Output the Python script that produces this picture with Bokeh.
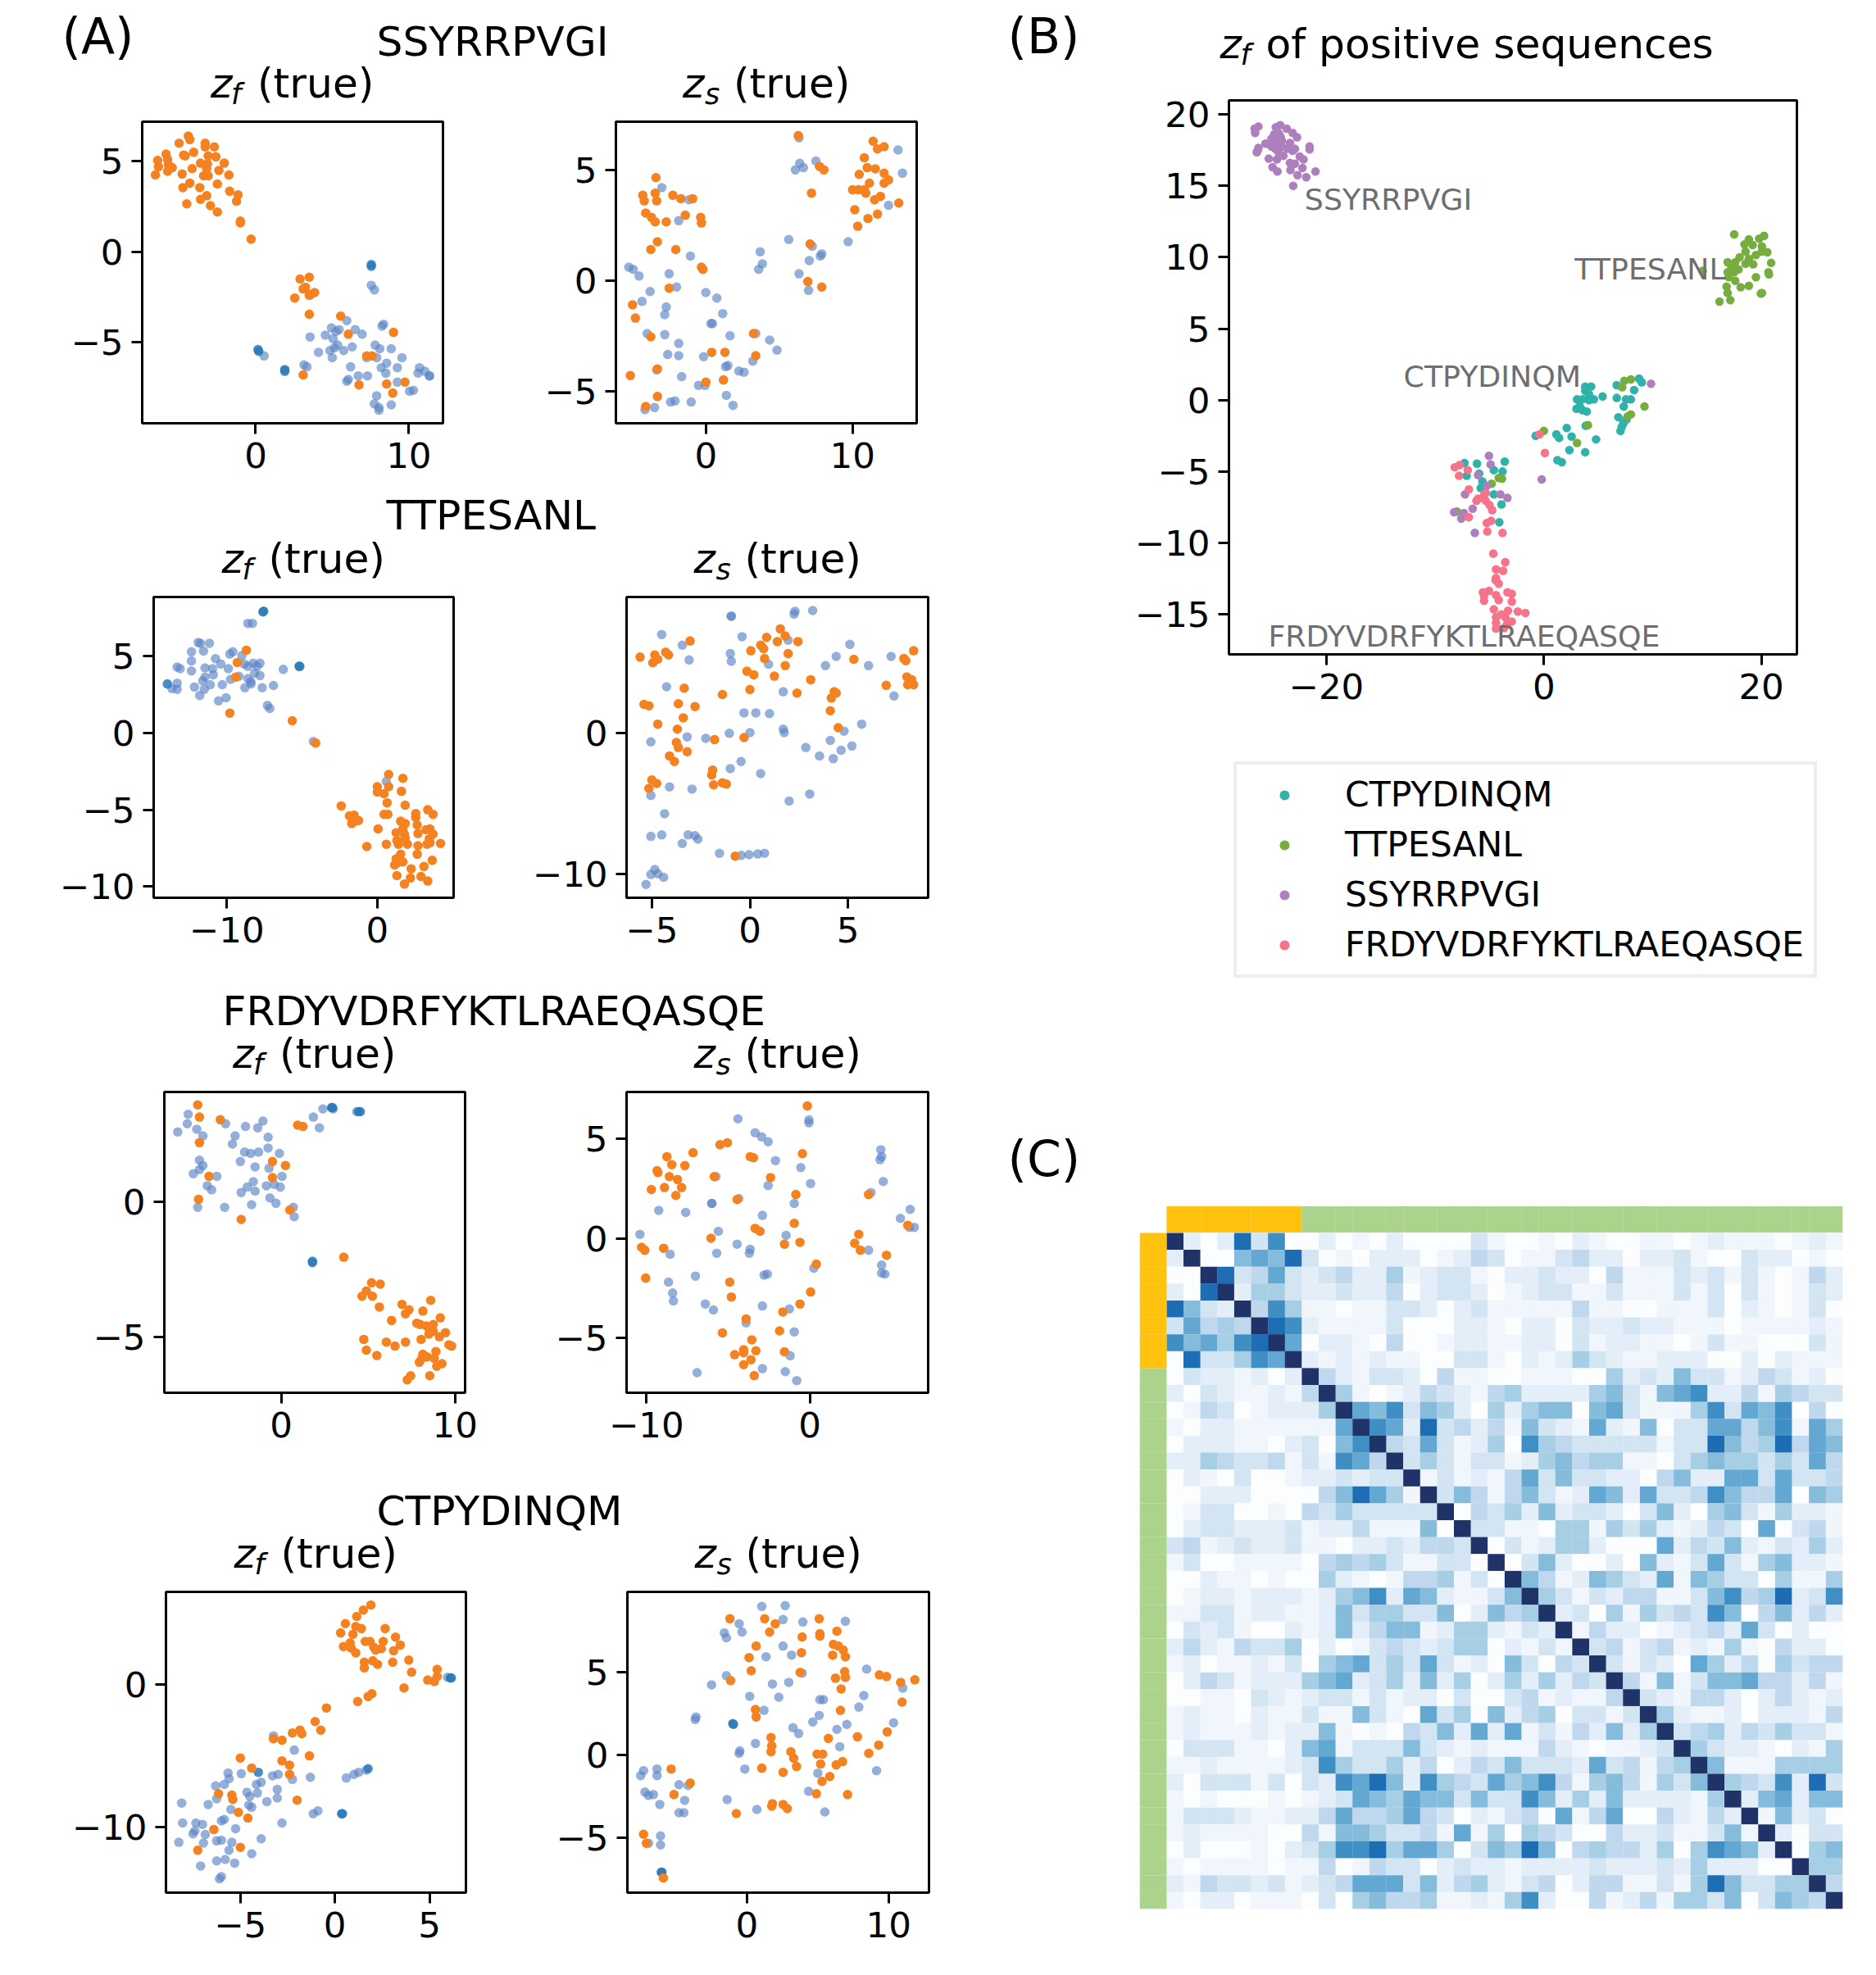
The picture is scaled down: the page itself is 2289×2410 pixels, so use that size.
from bokeh.plotting import figure
from bokeh.layouts import column, row
from bokeh.models import Legend, LegendItem, Range1d, LinearColorMapper, ColumnDataSource
from bokeh.core.properties import value
from bokeh.embed import file_html
from bokeh.resources import INLINE

SEQS = ["SSYRRPVGI", "TTPESANL", "FRDYVDRFYKTLRAEQASQE", "CTPYDINQM"]

A1F_ORANGE = [(-4.4,6.4),(-4.3,6.2),(-5.0,6.0),(-3.3,6.0),(-3.3,5.8),(-2.7,5.8),(-4.05,5.5),(-5.85,5.4),(-4.7,5.35),(-4.6,5.3),(-3.1,5.3),(-2.6,5.25),(-6.4,5.05),(-5.75,5.1),(-3.6,4.9),(-2.05,4.9),(-3.15,4.85),(-6.35,4.7),(-5.7,4.8),(-5.45,4.65),(-4.15,4.6),(-3.2,4.6),(-2.4,4.5),(-5.75,4.45),(-6.55,4.25),(-4.8,4.3),(-1.75,4.25),(-3.4,4.2),(-3.1,4.2),(-2.5,3.75),(-4.3,3.8),(-4.75,3.55),(-3.65,3.55),(-1.7,3.35),(-1.15,3.15),(-3.2,3.1),(-3.6,2.9),(-1.25,2.8),(-4.5,2.65),(-2.95,2.55),(-2.5,2.2),(-1.0,1.7),(-1.0,1.6),(-0.3,0.7),(3.5,-1.4),(2.9,-1.5),(3.25,-1.95),(3.1,-2.05),(3.85,-2.25),(3.6,-2.35),(3.5,-2.4),(2.55,-2.55),(3.5,-3.45),(5.55,-3.55),(6.05,-4.55),(9.0,-4.45),(7.25,-5.75),(7.6,-5.75),(3.1,-6.8),(8.55,-7.3),(6.75,-7.35),(9.75,-7.2),(8.95,-7.8)]
A1F_BLUE = [(7.55,-1.85),(7.75,-2.1),(5.95,-3.8),(4.95,-4.2),(5.45,-4.3),(5.25,-4.4),(6.5,-4.3),(4.55,-4.6),(5.05,-4.8),(6.95,-4.55),(3.55,-4.7),(8.35,-4.0),(8.25,-4.1),(5.35,-5.15),(5.15,-5.3),(6.3,-5.25),(7.8,-5.15),(8.1,-5.35),(8.85,-5.35),(4.85,-5.45),(5.75,-5.45),(4.1,-5.55),(5.0,-5.85),(7.9,-5.85),(7.25,-5.85),(9.55,-5.85),(8.55,-6.15),(6.2,-6.35),(8.2,-6.4),(9.25,-6.4),(8.5,-6.7),(10.7,-6.4),(10.6,-6.7),(11.05,-6.6),(11.35,-6.85),(11.35,-6.85),(6.7,-6.85),(7.3,-6.85),(6.05,-7.05),(5.95,-7.15),(9.25,-7.2),(10.05,-7.7),(10.3,-7.65),(7.9,-7.95),(7.75,-8.4),(8.85,-8.45),(8.05,-8.6),(8.05,-8.75),(0.55,-5.75),(3.15,-6.25),(3.35,-6.35)]
A1F_DENSE = [(7.55,-0.7),(7.55,-0.8),(0.15,-5.4),(0.2,-5.5),(1.9,-6.5),(1.9,-6.6)]

A1S_ORANGE = [(6.3,6.55),(11.4,6.3),(11.7,5.95),(12.15,6.05),(10.8,5.55),(7.75,5.15),(8.05,5.0),(11.0,5.1),(11.55,5.05),(12.15,4.85),(10.45,4.8),(12.45,4.55),(12.15,4.4),(11.15,4.4),(-3.4,4.65),(7.2,3.95),(10.0,4.1),(10.4,4.1),(10.8,4.1),(10.9,3.95),(-4.3,3.85),(-3.45,3.95),(-4.2,3.6),(-3.35,3.6),(-2.25,3.85),(-1.7,3.7),(-0.9,3.7),(11.9,3.8),(11.5,3.65),(13.15,3.5),(10.15,3.2),(-4.1,3.05),(-3.7,2.85),(-3.45,2.65),(-2.7,2.65),(-1.4,2.95),(-0.35,2.85),(-0.3,2.6),(11.05,2.8),(11.7,3.0),(10.35,2.45),(-3.3,1.75),(-3.75,1.4),(-2.05,1.4),(7.1,1.65),(-0.3,0.6),(-0.2,0.5),(6.95,-0.05),(7.9,-0.3),(-2.5,-0.35),(-5.0,-1.1),(-4.8,-1.7),(-3.75,-2.55),(3.25,-2.4),(0.4,-3.25),(1.3,-3.25),(3.4,-3.4),(-3.3,-4.0),(-5.15,-4.3),(0,-4.6),(1.2,-4.5),(-3.3,-5.25),(-4.1,-5.7)]
A1S_BLUE = [(6.35,6.45),(13.1,5.9),(7.5,5.4),(6.4,5.3),(6.1,5.0),(6.65,5.1),(13.4,4.85),(-3.0,4.2),(-1.15,3.65),(12.45,3.4),(-1.85,2.7),(5.65,1.85),(9.7,1.75),(7.25,1.55),(3.7,1.3),(-1.05,1.1),(7.9,1.2),(7.8,1.1),(7.05,0.9),(3.85,0.75),(3.6,0.5),(-5.25,0.6),(-4.95,0.5),(-4.55,0.2),(-2.5,0.3),(6.35,0.3),(-2.0,-0.3),(-3.8,-0.5),(0,-0.55),(0.75,-0.8),(7.0,-0.45),(-4.35,-0.95),(-2.7,-1.2),(-2.8,-1.55),(1.15,-1.5),(0.35,-1.95),(0.45,-1.95),(-4.0,-2.4),(-2.8,-2.45),(3.4,-2.4),(1.65,-2.5),(4.35,-2.7),(-1.85,-2.85),(4.85,-3.15),(-2.6,-3.35),(-1.85,-3.4),(-0.15,-3.45),(3.2,-3.65),(1.5,-3.85),(1.35,-3.9),(-3.35,-4.05),(2.25,-4.1),(2.6,-4.15),(-1.65,-4.35),(-0.5,-4.75),(-0.05,-4.75),(1.4,-5.2),(-2.4,-5.5),(-2.1,-5.45),(-1.0,-5.5),(1.85,-5.65),(-3.5,-5.75),(-4.15,-5.85)]
A1S_DENSE = []

A2F_ORANGE = [(-8.7,5.4),(-9.3,4.6),(-9.4,3.65),(-9.8,1.3),(-5.65,0.8),(-4.1,-0.65),(0.75,-2.7),(1.7,-2.95),(1.6,-3.8),(0,-3.5),(0.75,-3.5),(0,-3.85),(0.45,-3.95),(0.65,-4.55),(1.85,-4.7),(-2.4,-4.75),(3.35,-5.0),(3.7,-5.3),(2.55,-5.25),(0.45,-5.3),(0.7,-5.3),(2.55,-5.5),(-1.85,-5.4),(-1.55,-5.35),(-1.25,-5.7),(-1.5,-5.75),(-1.7,-5.9),(1.55,-5.75),(1.85,-5.9),(2.65,-6.0),(0.05,-6.25),(1.7,-6.25),(3.5,-6.25),(3.25,-6.3),(1.25,-6.5),(2.7,-6.55),(3.7,-6.6),(1.8,-6.6),(1.85,-6.85),(1.3,-7.0),(3.45,-6.9),(0.6,-7.25),(-0.7,-7.4),(1.4,-7.25),(2.0,-7.25),(2.7,-7.35),(3.3,-7.25),(3.5,-7.15),(4.2,-7.2),(2.65,-7.9),(1.55,-7.9),(1.25,-8.2),(3.65,-8.3),(1.7,-8.4),(1.35,-8.45),(1.15,-8.6),(3.1,-8.7),(2.25,-8.85),(1.3,-9.3),(2.2,-9.45),(2.9,-9.35),(3.35,-9.65),(1.8,-9.85)]
A2F_BLUE = [(-8.6,7.15),(-8.3,7.15),(-11.9,5.9),(-11.75,5.85),(-11.15,5.85),(-12.35,5.3),(-11.55,5.35),(-9.8,5.15),(-9.6,5.3),(-9.0,5.05),(-10.75,4.85),(-12.35,4.7),(-10.4,4.5),(-8.85,4.5),(-8.25,4.55),(-7.8,4.55),(-8.0,4.35),(-8.6,4.35),(-13.3,4.3),(-13.1,4.2),(-11.45,4.25),(-10.95,4.2),(-9.9,4.2),(-6.25,4.15),(-12.35,4.05),(-10.9,3.8),(-8.15,3.9),(-7.8,3.75),(-11.45,3.65),(-9.2,3.7),(-9.75,3.5),(-8.6,3.55),(-11.6,3.4),(-8.4,3.35),(-8.4,3.2),(-13.3,3.25),(-11.1,3.15),(-10.3,3.15),(-6.9,3.1),(-12.15,3.0),(-8.8,2.95),(-7.65,2.95),(-13.65,2.9),(-13.3,2.85),(-11.5,2.85),(-11.8,2.45),(-10.05,2.3),(-10.55,2.1),(-7.3,1.8),(-7.15,1.6),(-4.25,-0.55),(0.6,-3.15)]
A2F_DENSE = [(-7.55,7.95),(-7.6,7.9),(-5.2,4.35),(-5.15,4.35),(-13.95,3.2)]

A2S_ORANGE = [(-5.6,5.35),(-4.85,5.5),(-4.7,5.2),(-4.95,4.95),(-4.3,5.7),(-4.15,5.5),(-3.05,6.5),(0.05,5.8),(0.55,6.2),(0.7,5.95),(0.85,6.75),(1.4,6.45),(1.55,7.35),(1.8,6.85),(2.45,6.45),(1.95,5.6),(0.75,5.25),(1.8,4.75),(-0.15,4.35),(0.2,4.1),(1.25,4.0),(3.1,3.75),(0,3.05),(-1.4,2.7),(2.4,2.8),(5.3,5.2),(7.85,5.25),(7.95,5.1),(8.35,5.8),(8.0,3.95),(8.25,3.75),(8.05,3.4),(8.35,3.4),(6.95,3.35),(4.3,2.9),(4.4,2.8),(4.15,2.45),(4.1,1.55),(4.5,0.35),(-3.35,3.15),(-3.65,2.05),(-2.8,1.85),(-5.4,2.0),(-5.15,1.9),(-3.4,1.05),(-4.7,0.6),(-3.7,0.25),(-3.75,-0.7),(-3.65,-1.05),(-3.2,-1.35),(-4.1,-1.65),(-3.85,-2.05),(-1.8,-0.5),(-0.3,-0.35),(-1.9,-2.65),(-1.95,-3.0),(-5.0,-3.35),(-4.75,-3.6),(-5.15,-3.95),(-1.85,-3.7),(-1.4,-3.55),(-1.2,-3.65),(-0.75,-8.75)]
A2S_BLUE = [(-0.95,8.25),(-0.95,8.25),(2.3,8.6),(2.25,8.4),(3.2,8.65),(-4.5,6.95),(-0.4,6.8),(-3.45,6.2),(1.95,6.55),(5.1,6.25),(-1.0,5.6),(-0.95,5.05),(-3.1,5.15),(4.4,5.4),(0.95,4.85),(3.85,4.75),(6.05,4.75),(7.2,5.4),(-4.25,3.25),(1.7,2.9),(7.35,2.6),(-0.3,1.4),(0.3,1.4),(1.0,1.35),(5.7,0.6),(1.7,0.25),(1.75,0),(-1.05,-0.05),(0,0),(4.8,0.1),(-3.2,-0.3),(-2.25,-0.4),(-5.05,-0.65),(4.1,-0.55),(2.85,-1.05),(5.2,-0.95),(4.65,-1.25),(3.55,-1.65),(4.25,-1.85),(-0.45,-2.05),(-1.0,-2.55),(0.55,-2.9),(-4.1,-3.85),(-2.95,-4.0),(3.05,-4.35),(-5.05,-4.45),(2.0,-4.85),(-4.35,-5.75),(-5.05,-7.35),(-4.5,-7.25),(-3.15,-7.25),(-2.8,-7.3),(-2.65,-7.55),(-3.45,-7.85),(-1.55,-8.55),(-0.45,-8.7),(-0.05,-8.65),(0.4,-8.6),(0.75,-8.55),(-4.85,-9.7),(-5.05,-10.05),(-4.7,-10.0),(-4.4,-10.25),(-5.3,-10.75)]
A2S_DENSE = []

A3F_ORANGE = [(-4.8,3.6),(-4.7,3.15),(-3.5,3.05),(0.95,2.85),(1.25,2.8),(-4.7,2.2),(-0.5,1.5),(0.25,1.35),(-4.15,0.95),(-0.5,0.9),(-4.75,0.1),(0.5,-0.3),(-2.3,-0.65),(3.6,-2.05),(5.2,-3.0),(5.7,-3.05),(4.9,-3.3),(4.65,-3.5),(5.25,-3.5),(5.65,-3.9),(8.6,-3.65),(6.95,-3.8),(7.35,-4.0),(7.15,-4.15),(8.15,-4.05),(9.15,-4.3),(6.35,-4.4),(7.8,-4.5),(8.0,-4.55),(8.35,-4.6),(8.75,-4.55),(8.55,-4.75),(8.75,-4.8),(8.5,-4.9),(9.45,-4.85),(9.1,-5.0),(8.05,-5.1),(4.75,-5.1),(6.05,-5.2),(7.15,-5.2),(6.55,-5.35),(9.65,-5.3),(9.8,-5.35),(4.9,-5.5),(5.5,-5.7),(8.9,-5.55),(8.15,-5.65),(8.1,-5.8),(8.4,-5.75),(8.8,-5.8),(7.95,-5.95),(9.25,-6.0),(8.95,-6.1),(8.55,-6.45),(7.45,-6.45),(7.25,-6.6)]
A3F_BLUE = [(-5.35,3.25),(-5.4,2.9),(-5.95,2.6),(-4.85,2.7),(-4.5,2.45),(-3.2,2.9),(-2.05,2.8),(-1.05,3.0),(-1.35,2.75),(2.4,3.45),(3.0,3.45),(1.85,3.15),(2.2,2.75),(4.35,3.35),(-2.65,2.45),(-2.8,2.15),(-0.75,2.4),(-0.75,2.0),(-2.1,1.85),(-1.75,1.8),(-1.3,1.85),(-0.1,1.8),(-2.35,1.5),(-4.7,1.55),(-4.5,1.35),(-4.7,1.2),(-5.05,1.05),(-1.5,1.3),(-0.7,1.25),(-3.7,0.95),(0.05,0.95),(-1.6,0.75),(-1.95,0.55),(-0.85,0.6),(-0.4,0.65),(-0.05,0.55),(-4.25,0.6),(-4.0,0.45),(-2.3,0.35),(-1.5,0.4),(-0.65,0.15),(-0.3,-0.05),(-1.7,-0.1),(-4.8,-0.2),(-3.25,-0.2),(0.7,-0.2),(0.75,-0.55)]
A3F_DENSE = [(2.9,3.5),(2.95,3.5),(4.45,3.35),(4.55,3.35),(1.8,-2.2),(1.8,-2.25)]

A3S_ORANGE = [(-0.15,6.65),(-5.05,4.8),(-5.5,4.7),(-7.15,4.3),(-0.45,4.25),(-8.75,4.1),(-3.65,4.1),(-3.45,4.05),(-8.45,3.7),(-7.65,3.65),(-9.35,3.4),(-9.3,3.3),(-8.6,3.1),(-8.1,2.95),(-5.85,3.1),(-2.4,3.05),(-8.9,2.55),(-9.7,2.45),(-7.85,2.55),(-8.2,2.15),(-0.85,2.2),(3.6,2.2),(-4.45,1.95),(-0.95,0.75),(-3.35,0.5),(-3.05,0.35),(3.0,0.2),(6.0,0.65),(-6.05,0),(-0.6,-0.2),(-1.55,-0.3),(2.75,-0.25),(-10.3,-0.45),(-10.1,-0.6),(-8.95,-0.5),(3.1,-0.6),(4.7,-0.85),(0.4,-1.3),(-10.05,-2.0),(-4.9,-2.2),(0.05,-2.7),(-4.8,-2.95),(-0.6,-3.3),(-1.65,-3.7),(-3.9,-4.05),(-1.85,-4.65),(-5.35,-4.75),(-3.55,-5.1),(-4.05,-5.6),(-3.3,-5.65),(-1.55,-5.7),(-4.05,-5.75),(-4.6,-5.85),(-3.6,-6.1),(-4.05,-6.35),(-3.4,-6.9)]
A3S_BLUE = [(-4.4,6.0),(-0.05,5.95),(-0.05,5.8),(-3.35,5.3),(-2.95,5.1),(-2.55,4.85),(4.35,4.45),(4.4,4.1),(4.3,3.95),(-2.1,3.9),(-0.55,3.55),(-5.75,3.1),(4.5,2.85),(0.05,2.75),(-2.55,2.65),(3.75,2.3),(-4.35,2.0),(-6.0,1.75),(-6.0,1.75),(-0.95,1.75),(-9.25,1.4),(-7.6,1.3),(6.15,1.45),(-2.9,1.15),(5.55,1.0),(6.1,0.55),(6.4,0.55),(-5.6,0.35),(-10.4,0.2),(-1.45,0.15),(-4.45,-0.3),(-3.65,-0.55),(-3.7,-0.75),(-8.55,-0.8),(-5.7,-0.75),(3.6,-0.6),(4.4,-1.35),(0.25,-1.5),(4.4,-1.75),(4.6,-1.8),(-2.8,-1.85),(-2.6,-1.8),(-7.0,-1.9),(-8.65,-2.2),(-8.4,-2.75),(-8.35,-3.15),(-6.4,-3.3),(-5.9,-3.6),(-2.9,-3.4),(-1.25,-3.55),(-3.9,-4.25),(-0.95,-4.7),(-1.2,-5.9),(-2.9,-6.55),(-6.9,-6.75),(-1.5,-6.7),(-0.8,-7.15)]
A3S_DENSE = []

A4F_ORANGE = [(1.9,5.55),(1.5,5.2),(1.15,4.75),(0.55,4.25),(1.1,4.05),(1.4,3.9),(2.65,3.9),(0.3,3.6),(0.95,3.5),(3.2,3.3),(1.6,3.0),(1.85,3.0),(2.55,3.0),(3.45,2.75),(0.8,2.9),(0.45,2.65),(0.85,2.55),(2.05,2.6),(2.45,2.5),(2.15,2.4),(3.1,2.35),(1.1,2.2),(3.9,1.7),(3.05,1.55),(1.55,1.55),(2.0,1.65),(2.25,1.4),(1.55,1.15),(4.05,0.85),(5.4,1.05),(5.4,0.55),(4.9,0.3),(5.25,0.2),(3.65,-0.25),(1.95,-0.65),(1.75,-0.85),(1.2,-1.2),(-0.45,-1.65),(-1.05,-2.6),(-0.75,-3.2),(-1.85,-3.2),(-1.75,-3.45),(-2.25,-3.4),(-3.25,-3.8),(-2.8,-3.9),(-1.35,-5.0),(-5.0,-5.15),(-2.8,-5.35),(-2.4,-5.65),(-4.4,-5.85),(-2.4,-6.3),(-5.45,-7.75),(-5.4,-8.05),(-6.15,-7.65),(-2.0,-8.1),(-5.1,-8.95),(-4.6,-9.35),(-6.4,-10.15),(-5.0,-11.4),(-7.25,-11.6)]
A4F_BLUE = [(5.95,0.5),(-3.25,-3.6),(-2.15,-4.6),(-5.65,-6.2),(-5.6,-6.6),(-4.95,-6.25),(-3.3,-6.4),(-3.0,-6.3),(-1.3,-6.5),(-2.25,-6.65),(0.6,-6.55),(1.0,-6.3),(1.25,-6.15),(1.65,-6.0),(-5.85,-7.0),(-6.3,-7.1),(-4.15,-7.0),(-3.9,-6.85),(-4.65,-7.55),(-3.05,-7.35),(-4.1,-7.6),(-6.25,-8.0),(-4.5,-7.85),(-3.05,-7.95),(-8.1,-8.3),(-6.7,-8.4),(-3.6,-8.2),(-4.55,-8.45),(-4.4,-8.6),(-5.5,-8.75),(-0.9,-8.85),(-1.15,-9.05),(-5.85,-9.45),(-6.0,-9.55),(-8.05,-9.7),(-7.35,-9.7),(-7.0,-9.8),(-2.8,-9.7),(-5.25,-10.1),(-7.4,-10.25),(-7.5,-10.45),(-6.85,-10.5),(-3.9,-10.8),(-8.25,-11.05),(-6.95,-11.1),(-6.25,-10.95),(-6.0,-10.9),(-5.45,-11.05),(-5.6,-11.6),(-4.4,-11.85),(-6.25,-12.35),(-5.8,-12.25),(-5.3,-12.5),(-7.1,-12.7),(-6.0,-13.45),(-6.1,-13.6)]
A4F_DENSE = [(6.1,0.45),(6.15,0.45),(1.75,-5.9),(0.35,-9.05),(0.4,-9.05),(-4.05,-6.15)]

A4S_ORANGE = [(-1.2,8.25),(1.25,8.25),(2.0,7.95),(5.1,8.25),(1.6,7.45),(6.35,7.5),(5.15,7.35),(5.15,7.2),(3.9,7.15),(0.65,6.6),(6.1,6.7),(6.45,6.6),(6.8,6.35),(3.85,6.2),(0.15,5.9),(6.05,6.05),(6.95,5.95),(0.3,5.1),(3.75,5.0),(6.9,5.05),(9.35,4.85),(9.85,4.75),(6.25,4.65),(6.95,4.7),(-1.15,4.5),(11.85,4.55),(10.85,4.4),(6.65,4.0),(10.95,3.2),(0.6,2.75),(6.6,2.7),(0.65,2.3),(9.9,1.4),(7.8,1.1),(1.7,1.05),(5.75,1.0),(1.75,0.55),(1.7,0.2),(3.1,0.2),(9.3,0.6),(8.6,0.1),(4.95,0.05),(5.35,0.05),(3.3,-0.2),(6.75,-0.4),(5.2,-0.55),(6.3,-0.6),(3.5,-0.7),(1.05,-0.8),(2.55,-1.05),(-5.35,-0.85),(5.85,-1.3),(5.3,-1.6),(-4.0,-1.7),(-5.15,-2.4),(4.9,-2.35),(7.1,-2.4),(1.8,-2.95),(2.55,-3.0),(1.75,-3.1),(2.85,-3.25),(-0.75,-3.55),(-7.3,-4.8),(-7.1,-5.35),(-5.9,-7.45)]
A4S_BLUE = [(1.05,9.0),(2.7,9.05),(2.55,8.2),(6.95,8.1),(3.95,8.05),(-0.55,7.95),(-0.35,7.45),(-1.6,7.4),(-1.45,7.1),(2.55,6.6),(3.15,6.05),(1.35,5.95),(8.45,5.2),(3.9,4.95),(-1.45,4.8),(-2.5,4.25),(1.8,4.3),(2.95,4.4),(11.0,4.05),(0.2,3.55),(2.25,3.5),(8.25,3.6),(5.15,3.35),(5.4,3.35),(7.9,2.9),(1.2,2.7),(-3.6,2.3),(-3.65,2.15),(5.1,2.4),(4.65,2.0),(10.35,1.95),(7.05,1.85),(3.25,1.65),(6.35,1.55),(3.65,1.3),(0.6,0.7),(6.55,0.5),(-0.5,0.25),(-0.55,0.1),(-0.15,-0.85),(9.15,-0.95),(5.0,-1.1),(-7.3,-0.95),(-6.35,-0.85),(-7.5,-1.25),(-6.35,-1.25),(-4.8,-1.8),(-4.15,-1.85),(-7.2,-2.25),(-6.95,-2.45),(-6.6,-2.4),(4.35,-2.2),(-4.4,-2.75),(-1.4,-2.7),(-6.15,-3.0),(0.7,-3.3),(-4.8,-3.5),(-4.45,-3.5),(5.5,-3.45),(-6.1,-4.9),(-6.95,-5.35),(-6.1,-5.45)]
A4S_DENSE = [(-1.0,1.9),(-0.95,1.85),(-6.0,-7.1),(-6.05,-7.1)]

B_TEAL = [(3.8,0.95),(4.35,0.95),(3.8,0.65),(4.15,0.4),(5.4,0.25),(3.05,0.05),(3.55,0.05),(4.6,0.05),(4.15,0),(3.3,-0.45),(3.0,-0.6),(3.55,-0.7),(3.95,-0.8),(6.7,1.05),(8.75,1.5),(9.0,1.25),(8.3,0.7),(6.7,0.15),(7.55,0.05),(8.0,0.05),(7.35,-0.45),(6.85,-1.2),(7.6,-1.35),(7.3,-1.65),(7.15,-1.9),(7.05,-2.15),(3.85,-1.8),(2.1,-1.95),(-0.75,-2.5),(1.15,-2.4),(1.4,-2.65),(2.55,-2.55),(4.8,-2.75),(2.35,-3.5),(3.8,-3.65),(1.25,-4.2),(1.65,-4.35),(-3.6,-4.3),(-7.3,-4.4),(-6.15,-4.45),(-4.6,-4.9),(-3.8,-5.0),(-7.1,-5.3),(-5.95,-5.15),(-5.65,-5.7),(-5.8,-6.15),(-4.6,-6.6),(-3.9,-7.3),(-4.1,-8.55)]
B_GREEN = [(17.5,11.6),(20.25,11.5),(18.85,11.25),(19.8,11.3),(18.45,10.9),(19.2,10.85),(20.05,10.75),(18.55,10.4),(19.5,10.15),(20.05,10.4),(20.55,10.35),(18.0,10.0),(18.85,9.9),(16.9,9.65),(17.6,9.65),(18.55,9.55),(19.25,9.5),(20.9,9.6),(17.25,9.3),(17.9,9.15),(14.6,9.05),(16.9,8.95),(17.5,8.95),(20.65,8.95),(20.7,8.8),(19.5,8.6),(17.0,8.6),(17.6,8.35),(18.85,8.0),(18.1,7.9),(16.8,7.95),(16.9,7.5),(20.05,7.5),(19.95,7.45),(16.15,6.9),(17.15,7.0),(8.0,1.45),(7.4,1.35),(7.2,0.9),(9.25,-0.45),(8.0,-1.0),(7.7,-1.15),(4.05,-1.75),(0,-2.15),(3.05,-3.0),(-4.15,-5.45),(-3.85,-5.5),(-4.8,-5.85),(-8.0,-7.8)]
B_PURPLE = [(-26.55,18.7),(-26.25,19.15),(-24.65,19.1),(-24.25,19.25),(-23.65,19.0),(-26.6,19.0),(-24.8,18.6),(-24.35,18.65),(-23.1,18.7),(-22.7,18.4),(-25.05,18.3),(-24.2,18.4),(-25.6,17.95),(-24.55,17.9),(-23.35,18.0),(-25.05,17.75),(-24.1,17.75),(-21.55,17.75),(-26.25,17.65),(-21.55,17.55),(-26.4,17.35),(-23.1,17.45),(-24.4,17.35),(-23.95,17.1),(-22.45,17.05),(-25.3,16.9),(-24.55,16.85),(-22.1,16.85),(-23.35,16.6),(-22.9,16.55),(-24.95,16.3),(-22.2,16.25),(-23.3,16.1),(-24.5,16.0),(-21.0,16.0),(-22.65,15.75),(-21.85,15.6),(-23.05,15.0),(-24.8,18.2),(-24.1,18.15),(-23.6,17.6),(-22.9,17.6),(-24.7,17.6),(-26.3,17.5),(9.85,1.15),(-5.05,-3.9),(-4.9,-4.5),(-6.05,-5.25),(-0.2,-5.55),(-5.25,-6.0),(-7.25,-6.6),(-4.0,-6.6),(-3.35,-6.85),(-6.55,-7.6),(-8.25,-7.85),(-7.35,-7.9),(-7.6,-8.3),(-6.35,-9.3)]
B_PINK = [(-0.4,-2.4),(0.1,-3.7),(-8.2,-4.7),(-7.75,-4.55),(-7.0,-4.9),(-7.8,-5.3),(-6.9,-6.25),(-5.35,-6.5),(-5.5,-6.65),(-6.05,-6.9),(-6.2,-7.05),(-5.35,-7.05),(-5.0,-7.35),(-4.75,-7.7),(-6.9,-8.2),(-4.85,-8.45),(-5.25,-8.6),(-5.2,-9.2),(-3.8,-9.3),(-4.65,-10.75),(-3.55,-11.35),(-4.4,-11.85),(-3.75,-11.95),(-4.4,-12.45),(-4.45,-12.6),(-4.15,-12.85),(-5.6,-13.45),(-5.05,-13.35),(-3.35,-13.45),(-2.95,-13.55),(-5.5,-13.7),(-4.4,-13.65),(-4.15,-14.0),(-2.95,-14.1),(-5.5,-14.05),(-4.6,-14.65),(-3.3,-14.75),(-2.4,-14.8),(-1.7,-14.9),(-3.9,-15.0),(-4.4,-15.2),(-3.55,-15.2),(-2.95,-15.5),(-4.4,-15.6),(-3.4,-15.7),(-4.4,-16.0),(-3.65,-15.95)]
B_ANNOT_TEXT = ["SSYRRPVGI", "TTPESANL", "CTPYDINQM", "FRDYVDRFYKTLRAEQASQE"]
B_ANNOT_X = [-22.0, 2.83, -12.9, -25.35]
B_ANNOT_Y = [13.35, 8.47, 0.98, -17.25]

# Panel (C): lower triangle of the similarity matrix, one digit per cell (tenths).
HEAT_GROUPS = [0]*8 + [1]*32
HEAT_ROWS = ["", "2", "00", "209", "9632", "37454", "867589", "0933587", "03221202", "203211214",
 "0143012225", "10221111117", "022211023068", "2254334131874", "02103001223233", "002220000469751",
 "0133001043533333", "02332223122411160", "341232231102232443", "1300111104545311330",
 "00211010052101445130", "012212221256827621136", "1133122112635533602645", "03231002126246612552132",
 "242143350201343235502131", "1201121305673537312063043", "02431222567235262502525243",
 "001103212331312203003412114", "1211021131163107350624503313", "12111212261010436272713142625",
 "033311026713336321211142101123", "1121111238533524024363332734145",
 "20333130328796285437568415641536", "101000101237657663633862526222215",
 "1333211224744574302134071470042142", "121111004166533417150543004223" + "11361",
 "02000102358895775036" + "5960454425058762", "10111101140143302322" + "12222322232522200",
 "21433231234777362452" + "134024411315963355", "10220111030564451121" + "5820041241553603654"]
HEAT_PALETTE = ["#fbfdff","#f0f6fc","#e3eef8","#d3e4f3","#bfd8ed","#a6cee4","#85bcdc","#63a8d3","#3f8fc5","#1c6db3","#1f3368"]
GROUP_COLORS = ["#ffc20e", "#abd38c"]

FONT = "DejaVu Sans"
BLUE, DENSE, ORANGE = "#5a84c4", "#2a7ab8", "#f58220"
TICK_PX, TITLE, SUB, BIG = "43.5px", 50.3, 35, 60
BASE_SHIFT = 0.33  # an alphabetic baseline is drawn this many ems too low


def minus(vals):
    return {v: ("\u2212" + str(-v)) if v < 0 else str(v) for v in vals}


def style(p, xt, yt):
    p.grid.visible = False
    p.outline_line_color = "black"
    p.outline_line_width = 3
    p.xaxis.ticker = xt
    p.yaxis.ticker = yt
    p.xaxis.major_label_overrides = minus(xt)
    p.yaxis.major_label_overrides = minus(yt)
    for ax in (p.xaxis[0], p.yaxis[0]):
        ax.axis_line_color = None
        ax.minor_tick_line_color = None
        ax.major_tick_in = 0
        ax.major_tick_out = 13
        ax.major_tick_line_width = 3
        ax.major_tick_line_color = "black"
        ax.major_label_text_font = FONT
        ax.major_label_text_font_size = TICK_PX
        ax.major_label_text_color = "black"
        ax.major_label_standoff = 10


def text_strip(x0, y0, x1, y1, texts):
    """A figure with no axes, one unit per pixel, holding texts placed in page pixels."""
    w, h = x1 - x0, y1 - y0
    p = figure(width=w, height=h, output_backend="svg", toolbar_location=None,
               x_range=Range1d(x0, x1), y_range=Range1d(y1, y0), min_border=0)
    p.axis.visible = False
    p.grid.visible = False
    p.outline_line_color = None
    for (x, y, t, size, st) in texts:
        p.text([x], [y], text=[t], text_font=value(FONT), text_font_size=f"{size}px", text_font_style=st,
               text_color="black", text_baseline="alphabetic", text_align="left",
               y_offset=-BASE_SHIFT * size)
    return p


def z_title(fx0, fx1, base, sub):
    cx = (fx0 + fx1) / 2
    if sub == "f":
        return [(cx - 100, base, "z", TITLE, "italic"), (cx - 75, base + 8, "f", SUB, "italic"), (cx - 43, base, "(true)", TITLE, "normal")]
    return [(cx - 102, base, "z", TITLE, "italic"), (cx - 75, base + 8, "s", SUB, "italic"), (cx - 40, base, "(true)", TITLE, "normal")]


def scatter_panel(tile, frame, xr, yr, xt, yt, orange, blue, dense):
    tx0, ty0, tx1, ty1 = tile
    fx0, fy0, fx1, fy1 = frame
    p = figure(width=tx1 - tx0, height=ty1 - ty0, output_backend="svg", toolbar_location=None,
               x_range=Range1d(*xr), y_range=Range1d(*yr),
               min_border_left=fx0 - tx0, min_border_right=tx1 - fx1,
               min_border_top=fy0 - ty0, min_border_bottom=ty1 - fy1)
    style(p, xt, yt)
    p.scatter([a for a, _ in blue], [b for _, b in blue], size=11.5, color=BLUE, alpha=0.65, line_color=None)
    if dense:
        p.scatter([a for a, _ in dense], [b for _, b in dense], size=11.5, color=DENSE, alpha=0.85, line_color=None)
    p.scatter([a for a, _ in orange], [b for _, b in orange], size=11.5, color=ORANGE, line_color=None)
    return p


LX, MX, RX = 0, 620, 1225
strip1 = text_strip(LX, 0, RX, 144, [(75, 63.6, "(A)", BIG, "normal"), (459, 66.5, SEQS[0], TITLE, "normal")]
                    + z_title(173, 540, 118, "f") + z_title(751, 1118, 118, "s"))
r1 = row(scatter_panel((LX, 144, MX, 600), (173, 148, 540, 516), (-7.41, 12.23), (-9.47, 7.19), [0, 10], [-5, 0, 5], A1F_ORANGE, A1F_BLUE, A1F_DENSE),
         scatter_panel((MX, 144, RX, 600), (751, 148, 1118, 516), (-6.13, 14.37), (-6.46, 7.18), [0, 10], [-5, 0, 5], A1S_ORANGE, A1S_BLUE, A1S_DENSE))
strip2 = text_strip(LX, 600, RX, 724, [(471, 645, SEQS[1], TITLE, "normal")]
                    + z_title(187, 553, 698, "f") + z_title(764, 1132, 698, "s"))
r2 = row(scatter_panel((LX, 724, MX, 1205), (187, 728, 553, 1095), (-14.86, 5.07), (-10.74, 8.87), [-10, 0], [-10, -5, 0, 5], A2F_ORANGE, A2F_BLUE, A2F_DENSE),
         scatter_panel((MX, 724, RX, 1205), (764, 728, 1132, 1095), (-6.29, 9.09), (-11.7, 9.61), [-5, 0, 5], [-10, 0], A2S_ORANGE, A2S_BLUE, A2S_DENSE))
strip3 = text_strip(LX, 1205, RX, 1328, [(271, 1250, SEQS[2], TITLE, "normal")]
                    + z_title(200, 567, 1302, "f") + z_title(764, 1132, 1302, "s"))
r3 = row(scatter_panel((LX, 1328, MX, 1815), (200, 1332, 567, 1699), (-6.72, 10.58), (-7.08, 4.08), [0, 10], [-5, 0], A3F_ORANGE, A3F_BLUE, A3F_DENSE),
         scatter_panel((MX, 1328, RX, 1815), (764, 1332, 1132, 1699), (-11.22, 7.25), (-7.76, 7.35), [-10, 0], [-5, 0, 5], A3S_ORANGE, A3S_BLUE, A3S_DENSE))
strip4 = text_strip(LX, 1815, RX, 1938, [(459, 1859.5, SEQS[3], TITLE, "normal")]
                    + z_title(202, 568, 1912, "f") + z_title(765, 1133, 1912, "s"))
r4 = row(scatter_panel((LX, 1938, MX, 2402), (202, 1942, 568, 2309), (-8.93, 6.92), (-14.57, 6.47), [-5, 0, 5], [-10, 0], A4F_ORANGE, A4F_BLUE, A4F_DENSE),
         scatter_panel((MX, 1938, RX, 2402), (765, 1942, 1133, 2309), (-8.44, 12.85), (-8.34, 9.88), [0, 10], [-5, 0, 5], A4S_ORANGE, A4S_BLUE, A4S_DENSE))
left = column(strip1, r1, strip2, r2, strip3, r3, strip4, r4, spacing=0)

# Panel (B)
RIGHT_END = 2281
strip_b = text_strip(RX, 0, RIGHT_END, 112, [(1229, 63.6, "(B)", BIG, "normal"), (1488, 70, "z", TITLE, "italic"),
                                             (1513, 78, "f", SUB, "italic"), (1544, 70, "of positive sequences", TITLE, "normal")])
B_L, B_T, B_R, B_B = 1499, 122, 2192, 798
B_TOP, B_END = 112, 880
pb = figure(width=RIGHT_END - RX, height=B_END - B_TOP, output_backend="svg", toolbar_location=None,
            x_range=Range1d(-28.96, 23.27), y_range=Range1d(-17.8, 20.98),
            min_border_left=B_L - RX, min_border_right=RIGHT_END - B_R,
            min_border_top=B_T - B_TOP, min_border_bottom=B_END - B_B)
style(pb, [-20, 0, 20], [-15, -10, -5, 0, 5, 10, 15, 20])
SERIES = [("CTPYDINQM", B_TEAL, "#2eb2a9"), ("TTPESANL", B_GREEN, "#77ad3f"),
          ("SSYRRPVGI", B_PURPLE, "#ad7fbd"), ("FRDYVDRFYKTLRAEQASQE", B_PINK, "#f6738b")]
for name, pts, col in SERIES:
    pb.scatter([a for a, _ in pts], [b for _, b in pts], size=10.5, color=col, line_color=None)
pb.text(B_ANNOT_X, B_ANNOT_Y, text=B_ANNOT_TEXT, text_font=value(FONT), text_font_size="36.3px",
        text_color="#6d6e71", text_baseline="alphabetic", text_align="left", y_offset=-12)

# The legend lives in its own figure so that nothing clips it; its points lie outside that figure's range.
LEG_TOP, LEG_END = 880, 1230
pl = figure(width=RIGHT_END - RX, height=LEG_END - LEG_TOP, output_backend="svg", toolbar_location=None,
            x_range=Range1d(1000, 1001), y_range=Range1d(1000, 1001), min_border=0)
pl.axis.visible = False
pl.grid.visible = False
pl.outline_line_color = None
items = []
for name, pts, col in SERIES:
    r = pl.scatter([a for a, _ in pts], [b for _, b in pts], size=10.5, color=col, line_color=None)
    items.append(LegendItem(label=value(name), renderers=[r]))
pl.add_layout(Legend(items=items, location=(1505 - RX, LEG_END - 1193), margin=0, padding=12, glyph_width=92,
                     glyph_height=30, label_standoff=28, spacing=12, label_text_font=FONT,
                     label_text_font_size="42.5px", label_text_color="black", border_line_color="#dcdcdc",
                     border_line_width=4, background_fill_alpha=1), "center")

# Panel (C)
strip_c = text_strip(RX, LEG_END, RIGHT_END, 1465, [(1229, 1433, "(C)", BIG, "normal")])
n = len(HEAT_ROWS)
cell = [[0.0] * n for _ in range(n)]
for i, s in enumerate(HEAT_ROWS):
    s = s.ljust(i, "0")[:i]
    cell[i][i] = 1.0
    for j, ch in enumerate(s):
        cell[i][j] = cell[j][i] = int(ch) / 10
xs, ys, vs = [], [], []
for i in range(n):
    for j in range(n):
        xs.append(j + 0.5); ys.append(i + 0.5); vs.append(cell[i][j])
C_L, C_T, C_R, C_B = 1390, 1471, 2248, 2329
C_TOP, C_END = 1465, 2402
pc = figure(width=RIGHT_END - RX, height=C_END - C_TOP, output_backend="svg", toolbar_location=None,
            x_range=Range1d(-1.6, 40), y_range=Range1d(40, -1.6),
            min_border_left=C_L - RX, min_border_right=RIGHT_END - C_R,
            min_border_top=C_T - C_TOP, min_border_bottom=C_END - C_B)
pc.axis.visible = False
pc.grid.visible = False
pc.outline_line_color = None
mapper = LinearColorMapper(palette=HEAT_PALETTE, low=-0.05, high=1.05)
pc.rect(x="x", y="y", width=1.01, height=1.01, source=ColumnDataSource(dict(x=xs, y=ys, v=vs)),
        fill_color={"field": "v", "transform": mapper}, line_color=None)
bar_pos = [i + 0.5 for i in range(n)]
bar_col = [GROUP_COLORS[g] for g in HEAT_GROUPS]
pc.rect(x=bar_pos, y=[-0.8] * n, width=1.01, height=1.55, color=bar_col, line_color=None)
pc.rect(x=[-0.8] * n, y=bar_pos, width=1.6, height=1.01, color=bar_col, line_color=None)

right = column(row(strip_b), row(pb), row(pl), row(strip_c), row(pc), spacing=0)
root = row(left, right, spacing=0)
open("out.html", "w").write(file_html(root, INLINE))
